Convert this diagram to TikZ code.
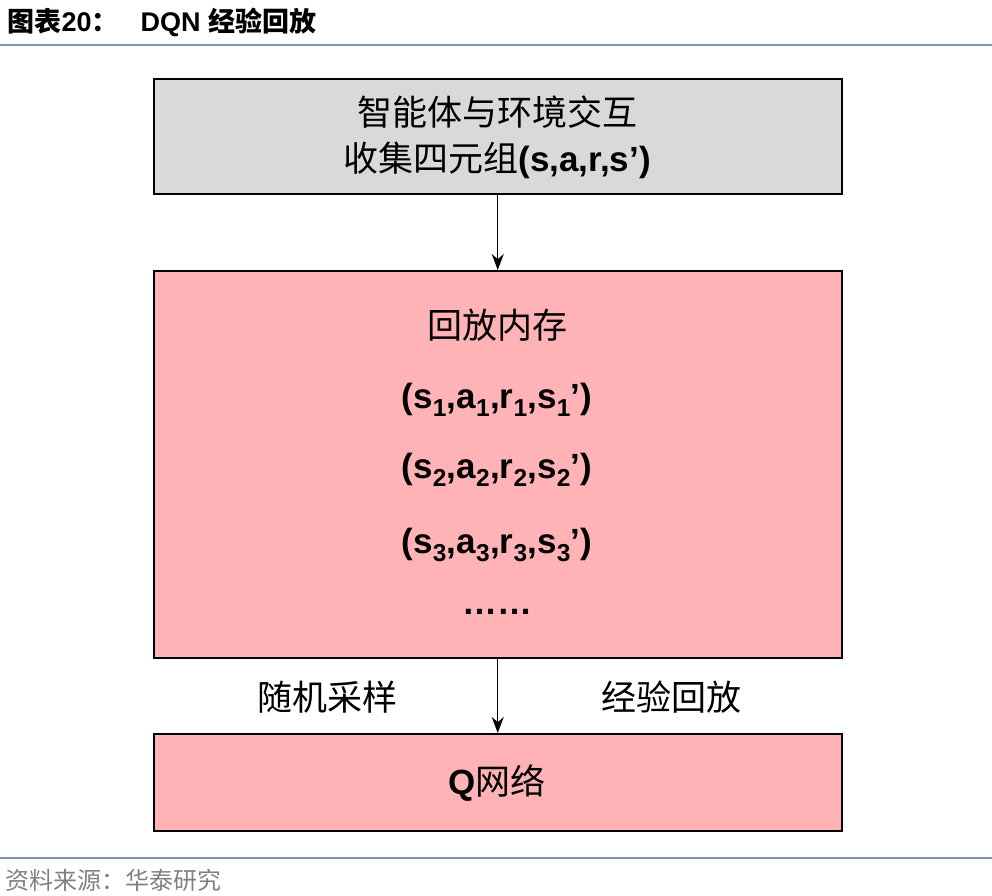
\documentclass[tikz,border=0pt]{standalone}
\usepackage{fontspec}
\usetikzlibrary{arrows.meta}
\setmainfont{Liberation Sans}
\newfontfamily\cjk{Noto Sans CJK SC}
\definecolor{pinkfill}{HTML}{FFB3B6}
\definecolor{grayfill}{HTML}{D9D9D9}
\definecolor{rulecol}{HTML}{7F93AE}
\begin{document}
\begin{tikzpicture}[x=1pt,y=-1pt,
  box/.style={draw=black,line width=1.5pt,anchor=north west,inner sep=0pt},
  txt/.style={font=\fontsize{35}{40}\selectfont\bfseries},
  arr/.style={-{Stealth[length=16pt,width=12pt]},line width=1.2pt}]
\useasboundingbox (0,0) rectangle (992,895);
\node[anchor=west,font=\fontsize{27}{30}\selectfont\bfseries] (title) at (4,22) {{\cjk 图表}20{\cjk ：}\hspace{22pt}DQN {\cjk 经验回放}};
\draw[rulecol,line width=1.5pt] (0,45) -- (992,45);
\node[box,fill=grayfill,minimum width=688pt,minimum height=115pt] (b1) at (153,78) {};
\node[txt] (t1) at (497,112) {\cjk\mdseries 智能体与环境交互};
\node[txt] (t2) at (497,160) {{\cjk\mdseries 收集四元组}(s,a,r,s’)};
\node[box,fill=pinkfill,minimum width=688pt,minimum height=387pt] (b2) at (153,270) {};
\node[txt] (m0) at (497,325) {\cjk\mdseries 回放内存};
\node[txt] (m1) at (497,400) {(s\textsubscript{1},a\textsubscript{1},r\textsubscript{1},s\textsubscript{1}’)};
\node[txt] (m2) at (497,470) {(s\textsubscript{2},a\textsubscript{2},r\textsubscript{2},s\textsubscript{2}’)};
\node[txt] (m3) at (497,545) {(s\textsubscript{3},a\textsubscript{3},r\textsubscript{3},s\textsubscript{3}’)};
\node[txt] (m4) at (497,612) {……};
\node[box,fill=pinkfill,minimum width=688pt,minimum height=97pt] (b3) at (153,733) {};
\node[txt] (q) at (497,783) {Q{\cjk\mdseries 网络}};
\draw[arr] (b1.south) -- (b2.north);
\draw[arr] (b2.south) -- (b3.north);
\node[txt] (l1) at (327,697) {\cjk\mdseries 随机采样};
\node[txt] (l2) at (671,697) {\cjk\mdseries 经验回放};
\draw[rulecol,line width=1.5pt] (0,858) -- (992,858);
\node[anchor=west,text=gray,font=\fontsize{24}{28}\selectfont\cjk] (src) at (2,880) {资料来源：华泰研究};
\end{tikzpicture}
\end{document}
